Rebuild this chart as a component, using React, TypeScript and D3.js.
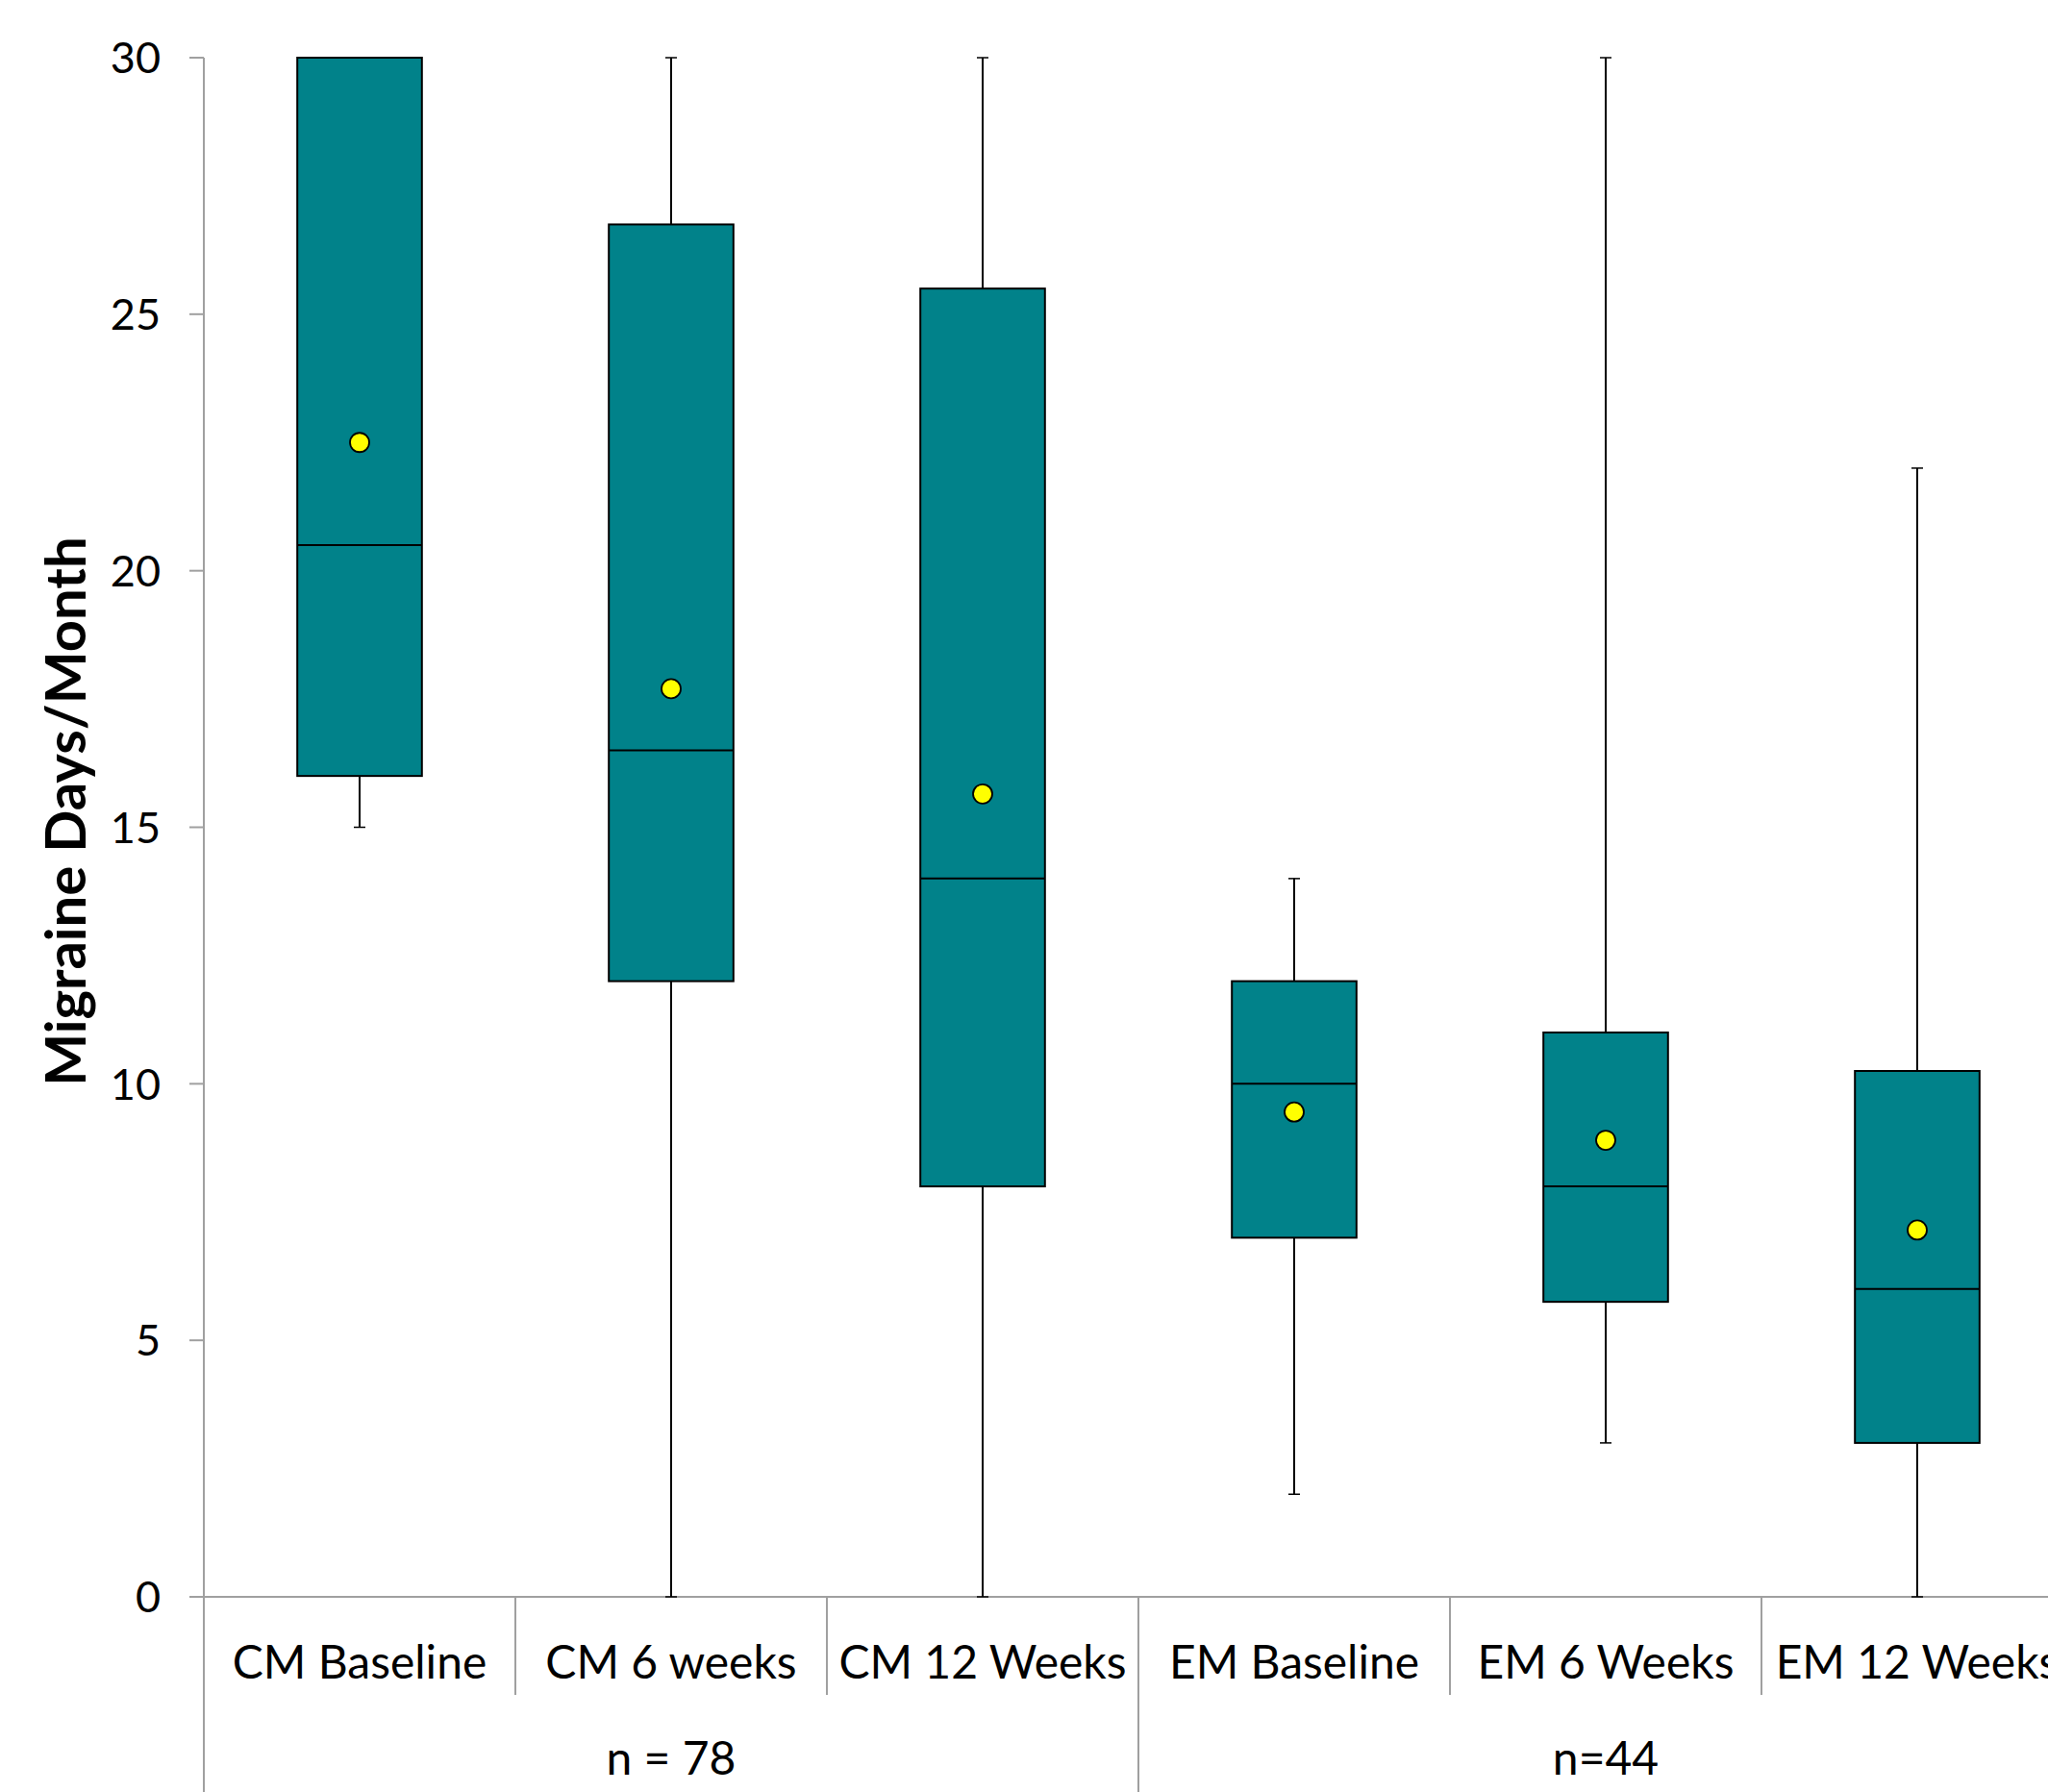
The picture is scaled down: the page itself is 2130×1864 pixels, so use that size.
import React from "react";
import * as d3 from "d3";

const categories = ["CM Baseline", "CM 6 weeks", "CM 12 Weeks", "EM Baseline", "EM 6 Weeks", "EM 12 Weeks"];
const mins = [15, 0, 0, 2, 3, 0];
const q1s = [16, 12, 8, 7, 5.75, 3];
const medians = [20.5, 16.5, 14, 10, 8, 6];
const q3s = [30, 26.75, 25.5, 12, 11, 10.25];
const maxs = [30, 30, 30, 14, 30, 22];
const means = [22.5, 17.7, 15.65, 9.45, 8.9, 7.15];
const groupLabels = ["n = 78", "n=44"];
const groupSizes = [3, 3];
const yTicks = [0, 5, 10, 15, 20, 25, 30];
const yTitle = "Migraine Days/Month";

const W = 2130;
const H = 1864;
const FONT = "Lato, 'Open Sans', sans-serif";
const AXIS = "#a0a0a0";

export default function App() {
  const x0 = 212;
  const band = 324;
  const x = d3.scaleBand<string>().domain(categories).range([x0, x0 + band * categories.length]).padding(0);
  const y = d3.scaleLinear().domain([0, 30]).range([1661, 60]);
  const boxW = x.bandwidth() * 0.4;
  const capW = 12;

  const groupStarts: number[] = [];
  let acc = 0;
  groupSizes.forEach((g) => { groupStarts.push(acc); acc += g; });

  return (
    <svg width={W} height={H} style={{ position: "absolute", left: 0, top: 0, background: "#fff" }}>
      <rect x={0} y={0} width={W} height={H} fill="#fff" />
      {/* axes */}
      <line x1={x0} x2={x0} y1={y(30)} y2={H} stroke={AXIS} strokeWidth={2} />
      {yTicks.map((t) => (
        <g key={t}>
          <line x1={x0 - 15} x2={x0} y1={y(t)} y2={y(t)} stroke={AXIS} strokeWidth={2} />
          <text x={167} y={y(t)} dy="0.36em" textAnchor="end" fontFamily={FONT} fontSize={45} fill="#000">{t}</text>
        </g>
      ))}
      <line x1={x0 - 15} x2={W} y1={y(0)} y2={y(0)} stroke={AXIS} strokeWidth={2} />
      {categories.map((c, i) => {
        if (i === 0) return null;
        const isGroup = groupStarts.includes(i);
        const xx = x(c)!;
        return <line key={c} x1={xx} x2={xx} y1={y(0)} y2={isGroup ? H : 1763} stroke={AXIS} strokeWidth={2} />;
      })}
      {/* boxes */}
      {categories.map((c, i) => {
        const cx = x(c)! + x.bandwidth() / 2;
        return (
          <g key={c}>
            {maxs[i] > q3s[i] && (
              <g>
                <line x1={cx} x2={cx} y1={y(maxs[i])} y2={y(q3s[i])} stroke="#000" strokeWidth={2} />
                <line x1={cx - capW / 2} x2={cx + capW / 2} y1={y(maxs[i])} y2={y(maxs[i])} stroke="#000" strokeWidth={1.5} />
              </g>
            )}
            {mins[i] < q1s[i] && (
              <g>
                <line x1={cx} x2={cx} y1={y(q1s[i])} y2={y(mins[i])} stroke="#000" strokeWidth={2} />
                <line x1={cx - capW / 2} x2={cx + capW / 2} y1={y(mins[i])} y2={y(mins[i])} stroke="#000" strokeWidth={1.5} />
              </g>
            )}
            <rect x={cx - boxW / 2} y={y(q3s[i])} width={boxW} height={y(q1s[i]) - y(q3s[i])} fill="#01828A" stroke="#000" strokeWidth={2} />
            <line x1={cx - boxW / 2} x2={cx + boxW / 2} y1={y(medians[i])} y2={y(medians[i])} stroke="#000" strokeWidth={2} />
            <circle cx={cx} cy={y(means[i])} r={10} fill="#FFFF00" stroke="#000" strokeWidth={1.8} />
            <text x={cx} y={1746} textAnchor="middle" fontFamily={FONT} fontSize={48} fill="#000">{c}</text>
          </g>
        );
      })}
      {groupLabels.map((g, gi) => {
        const start = x(categories[groupStarts[gi]])!;
        const cx = start + (groupSizes[gi] * band) / 2;
        return (
          <text key={g} x={cx} y={1846} textAnchor="middle" fontFamily={FONT} fontSize={48} fill="#000">{g}</text>
        );
      })}
      <text transform={`translate(89,844) rotate(-90)`} textAnchor="middle" fontFamily={FONT} fontWeight="bold" fontSize={58} fill="#000">{yTitle}</text>
    </svg>
  );
}
